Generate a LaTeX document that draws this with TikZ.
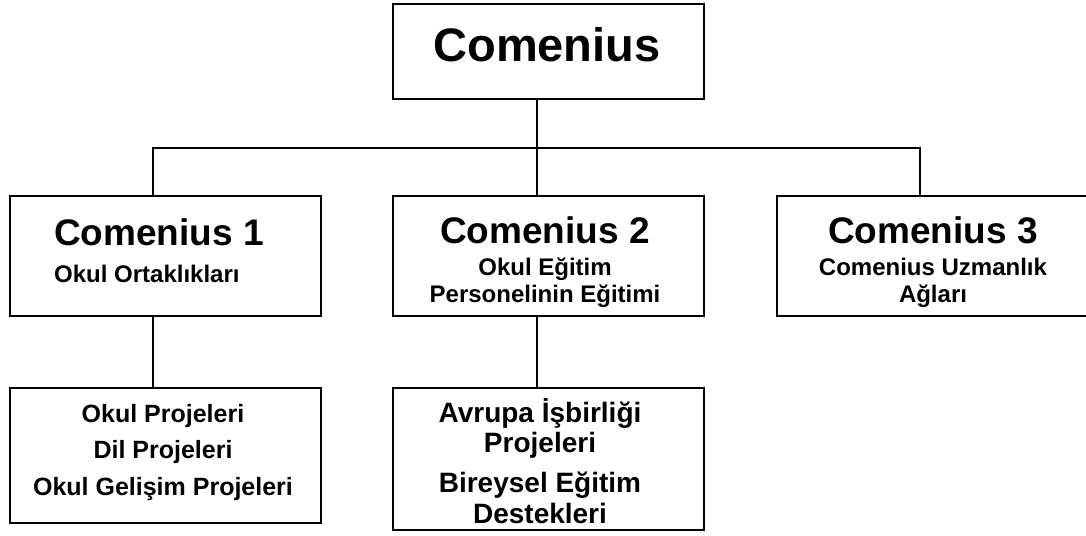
\documentclass[tikz,border=0pt]{standalone}
\usepackage{fontspec}
\setmainfont{Liberation Sans}
\begin{document}
\begin{tikzpicture}
  [x=1pt, y=-1pt,
   box/.style={draw, line width=2pt, inner sep=0pt, minimum width=311pt},
   txt/.style={inner sep=0pt, align=center},
   link/.style={line width=1.6pt}]
  \useasboundingbox (0,0) rectangle (1086,535);
  \clip (0,0) rectangle (1086,535);
  %Kutular
  \node [box, minimum height=95pt] (Com) at (548.5,51.5) {};
  \node [box, minimum height=120pt] (C1) at (165.5,256) {};
  \node [box, minimum height=120pt] (C2) at (548.5,256) {};
  \node [box, minimum height=120pt] (C3) at (932.5,256) {};
  \node [box, minimum height=135pt] (P1) at (165.5,455.5) {};
  \node [box, minimum height=142pt] (P2) at (548.5,459) {};
  %Texte
  \node [txt, anchor=north, font=\bfseries\fontsize{47}{56}\selectfont] (ComT) at (547,27) {Comenius};
  \node [txt, align=left, anchor=north west, font=\bfseries\fontsize{24}{27}\selectfont] (C1T) at (54,218)
    {{\fontsize{37}{40}\selectfont Comenius 1}\\[10pt]Okul Ortaklıkları};
  \node [txt, anchor=north, font=\bfseries\fontsize{24}{27}\selectfont] (C2T) at (545,216)
    {{\fontsize{37}{40}\selectfont Comenius 2}\\[5pt]Okul Eğitim\\Personelinin Eğitimi};
  \node [txt, anchor=north, font=\bfseries\fontsize{24}{27}\selectfont] (C3T) at (933,216)
    {{\fontsize{37}{40}\selectfont Comenius 3}\\[5pt]Comenius Uzmanlık\\Ağları};
  \node [txt, anchor=north, font=\bfseries\fontsize{25}{36.5}\selectfont] (P1T) at (163,404)
    {Okul Projeleri\\Dil Projeleri\\Okul Gelişim Projeleri};
  \node [txt, anchor=north, font=\bfseries\fontsize{28}{30.5}\selectfont] (P2T) at (540,398)
    {Avrupa İşbirliği\\Projeleri\\[9.5pt]Bireysel Eğitim\\Destekleri};
  %Verbindungen
  \draw [link] ([xshift=-11.5pt]Com.south) -- ([xshift=-11.5pt]C2.north);
  \coordinate (Hub) at (537,148);
  \draw [link] ([xshift=-12.5pt]C1.north) |- (Hub) -| ([xshift=-12.5pt]C3.north);
  \draw [link] ([xshift=-12.5pt]C1.south) -- ([xshift=-12.5pt]P1.north);
  \draw [link] ([xshift=-11.5pt]C2.south) -- ([xshift=-11.5pt]P2.north);
\end{tikzpicture}
\end{document}
